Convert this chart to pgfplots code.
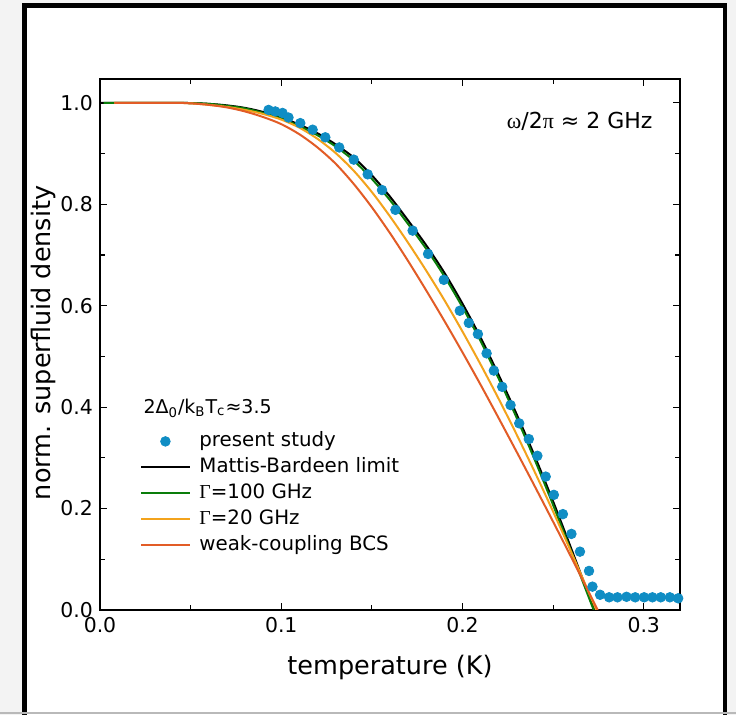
\documentclass[border=0pt]{standalone}
\usepackage{fontspec}
\setmainfont{DejaVu Sans}
\newfontfamily\greek{Liberation Serif}
\usepackage{pgfplots}
\pgfplotsset{compat=1.18}
\definecolor{dotblue}{RGB}{16,141,196}
\definecolor{mbgreen}{RGB}{10,125,10}
\definecolor{gorange}{RGB}{243,163,28}
\definecolor{bcsred}{RGB}{226,92,38}
\definecolor{bggray}{RGB}{243,243,243}

\begin{document}
\begin{tikzpicture}[x=0.5pt,y=0.5pt]
\useasboundingbox (0,0) rectangle (736,715);
\fill[bggray] (0,0) rectangle (736,715);
\fill[white] (24.5,0) rectangle (725,709.7);
\draw[line width=2.3pt] (24.5,0) -- (24.5,709.7) -- (725,709.7) -- (725,0);
\draw[gray!55, line width=0.6pt] (0,2) -- (736,2);
\begin{axis}[
  at={(50pt,52.5pt)}, anchor=south west,
  scale only axis, width=290pt, height=265.5pt,
  xmin=0, xmax=0.32, ymin=0, ymax=1.047,
  xtick={0,0.1,0.2,0.3}, minor xtick={0.05,0.15,0.25},
  ytick={0,0.2,0.4,0.6,0.8,1.0}, minor ytick={0.1,0.3,0.5,0.7,0.9},
  tick align=inside, major tick length=3.5pt, minor tick length=2.5pt,
  axis line style={line width=0.75pt},
  every tick/.style={black, line width=0.6pt},
  ticklabel style={font=\fontsize{10.2}{12}\selectfont},
  /pgf/number format/assume math mode=true,
  xticklabel style={/pgf/number format/.cd, fixed, fixed zerofill, precision=1},
  yticklabel style={/pgf/number format/.cd, fixed, fixed zerofill, precision=1},
  scaled ticks=false,
  xlabel={temperature (K)}, ylabel={norm. superfluid density},
  every axis x label/.style={at={(axis description cs:0.5,-0.109)}, anchor=center,
    font=\fontsize{12.75}{15}\selectfont},
  every axis y label/.style={at={(axis description cs:-0.0975,0.503)}, anchor=center, rotate=90,
    font=\fontsize{12.75}{15}\selectfont},
  legend style={draw=none, fill=none, at={(axis description cs:0.069,0.3427)}, anchor=north west,
    font=\fontsize{9.9}{11}\selectfont, inner sep=0pt, row sep=0pt, column sep=4.5pt,
    nodes={inner sep=0pt, text height=9pt, text depth=4pt}},
  legend cell align=left,
  legend image code/.code={\draw[mark repeat=2,mark phase=2,#1] plot coordinates {(0pt,0pt) (12pt,0pt) (24pt,0pt)};},
]
% measured data
\addplot[only marks, mark=*, mark size=2.4pt, color=dotblue] coordinates {
(0.0930,0.986) (0.0967,0.983) (0.1007,0.980) (0.1040,0.971) (0.1105,0.960)
(0.1173,0.947) (0.1243,0.932) (0.1320,0.912) (0.1400,0.888) (0.1477,0.859)
(0.1556,0.828) (0.1630,0.789) (0.1725,0.748) (0.1810,0.702) (0.1897,0.651)
(0.1985,0.590) (0.2035,0.566) (0.2085,0.544) (0.2133,0.506) (0.2173,0.472)
(0.2219,0.440) (0.2265,0.404) (0.2313,0.368) (0.2366,0.337) (0.2413,0.304)
(0.2459,0.263) (0.2504,0.227) (0.2554,0.189) (0.2601,0.150) (0.2648,0.115)
(0.2698,0.077) (0.2717,0.046) (0.2759,0.030) (0.2809,0.025) (0.2855,0.025)
(0.2905,0.026) (0.2953,0.025) (0.3002,0.025) (0.3048,0.025) (0.3094,0.025)
(0.3144,0.025) (0.3190,0.023)
};
\addlegendentry{present study}
% Mattis-Bardeen limit
\addplot[black, line width=1pt, smooth] coordinates {
(0,1) (0.040,1.000) (0.050,0.9995) (0.060,0.998) (0.070,0.995) (0.080,0.990)
(0.090,0.982) (0.100,0.971) (0.110,0.957) (0.120,0.940) (0.130,0.918)
(0.140,0.892) (0.150,0.857) (0.160,0.815) (0.170,0.768) (0.180,0.719)
(0.190,0.665) (0.200,0.604) (0.210,0.537) (0.220,0.463) (0.230,0.385)
(0.240,0.302) (0.250,0.214) (0.260,0.121) (0.270,0.026) (0.2727,0)
};
\addlegendentry{Mattis-Bardeen limit}
% Gamma = 100 GHz
\addplot[mbgreen, line width=1pt, smooth] coordinates {
(0.002,1) (0.040,1.000) (0.050,0.9995) (0.060,0.998) (0.070,0.994) (0.080,0.989)
(0.090,0.980) (0.100,0.969) (0.110,0.954) (0.120,0.936) (0.130,0.914)
(0.140,0.886) (0.150,0.850) (0.160,0.808) (0.170,0.761) (0.180,0.712)
(0.190,0.658) (0.200,0.597) (0.210,0.530) (0.220,0.456) (0.230,0.378)
(0.240,0.295) (0.250,0.207) (0.260,0.115) (0.270,0.022) (0.2724,0)
};
\addlegendentry{{\greek Γ}=100 GHz}
% Gamma = 20 GHz
\addplot[gorange, line width=1pt, smooth] coordinates {
(0.008,1) (0.040,1.000) (0.050,0.999) (0.060,0.996) (0.070,0.992) (0.080,0.986)
(0.090,0.978) (0.100,0.967) (0.110,0.951) (0.120,0.929) (0.130,0.901)
(0.140,0.866) (0.150,0.824) (0.160,0.776) (0.170,0.724) (0.180,0.669)
(0.190,0.611) (0.200,0.549) (0.210,0.484) (0.220,0.416) (0.230,0.345)
(0.240,0.271) (0.250,0.194) (0.260,0.114) (0.270,0.032) (0.2739,0)
};
\addlegendentry{{\greek Γ}=20 GHz}
% weak-coupling BCS
\addplot[bcsred, line width=1pt, smooth] coordinates {
(0.008,1) (0.040,1.000) (0.050,0.999) (0.060,0.996) (0.070,0.991) (0.080,0.983)
(0.090,0.972) (0.100,0.958) (0.110,0.938) (0.120,0.912) (0.130,0.880)
(0.140,0.840) (0.150,0.794) (0.160,0.743) (0.170,0.688) (0.180,0.630)
(0.190,0.570) (0.200,0.508) (0.210,0.444) (0.220,0.378) (0.230,0.311)
(0.240,0.243) (0.250,0.174) (0.260,0.104) (0.270,0.033) (0.2746,0)
};
\addlegendentry{weak-coupling BCS}
\node[anchor=west, font=\fontsize{9.5}{11}\selectfont, inner sep=0pt] at (axis cs:0.0238,0.398)
  {2Δ\textsubscript{0}/k\textsubscript{B}T\textsubscript{c}≈3.5};
\node[anchor=east, font=\fontsize{11}{13}\selectfont, inner sep=0pt] at (axis cs:0.305,0.9625)
  {{\greek ω}/2{\greek π} ≈ 2 GHz};
\end{axis}
\end{tikzpicture}
\end{document}
